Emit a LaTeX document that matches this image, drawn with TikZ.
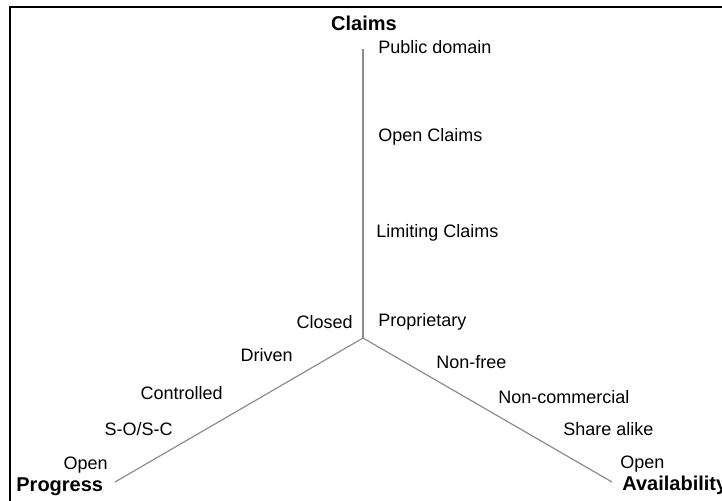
\documentclass[tikz,border=0pt]{standalone}
\usepackage{fontspec}
\setmainfont{Liberation Sans}
\usepackage{tikz}
\usetikzlibrary{positioning}
\definecolor{axisgray}{HTML}{8C8C8C}

\begin{document}
\begin{tikzpicture}[x=0.5pt, y=-0.5pt,
    lbl/.style={inner sep=0pt, font=\fontsize{9}{10}\selectfont},
    axlbl/.style={inner sep=0pt, font=\fontsize{10}{12}\selectfont\bfseries},
    axis/.style={axisgray, line width=0.6pt}]
\useasboundingbox (0,0) rectangle (722,500);
% Frame (right and bottom edges fall off the page)
\draw[line width=1.2pt] (10,7) rectangle (740,520);

% Axes
\coordinate (origin) at (363,338);
\coordinate (claimsend) at (363,49);
\coordinate (progend) at (115,482);
\coordinate (availend) at (612,482);
\draw[axis] (origin) -- (claimsend);
\draw[axis] (origin) -- (progend);
\draw[axis] (origin) -- (availend);

% Claims axis
\node[axlbl] (claims) at (364,23) {Claims};
\node[lbl, anchor=west] (pubdom) at (378,47) {Public domain};
\node[lbl, anchor=west] (openclaims) at (378,137) {Open Claims};
\node[lbl, anchor=west] (limclaims) at (376,233) {Limiting Claims};
\node[lbl, anchor=west] (propr) at (378,322) {Proprietary};

% Progress axis
\node[lbl, anchor=east] (closed) at (353,322) {Closed};
\node[lbl, anchor=east] (driven) at (293,355) {Driven};
\node[lbl, anchor=east] (controlled) at (223,393) {Controlled};
\node[lbl, anchor=east] (soshc) at (173,429) {S-O/S-C};
\node[lbl, anchor=east] (progopen) at (108,465) {Open};
\node[axlbl, anchor=west] (progress) at (16,487) {Progress};

% Availability axis
\node[lbl, anchor=west] (nonfree) at (436,362) {Non-free};
\node[lbl, anchor=west] (noncomm) at (498,397) {Non-commercial};
\node[lbl, anchor=west] (sharealike) at (563,429) {Share alike};
\node[lbl, anchor=west] (availopen) at (620,464) {Open};
\node[axlbl, anchor=west] (avail) at (622,485) {Availability};
\end{tikzpicture}
\end{document}
